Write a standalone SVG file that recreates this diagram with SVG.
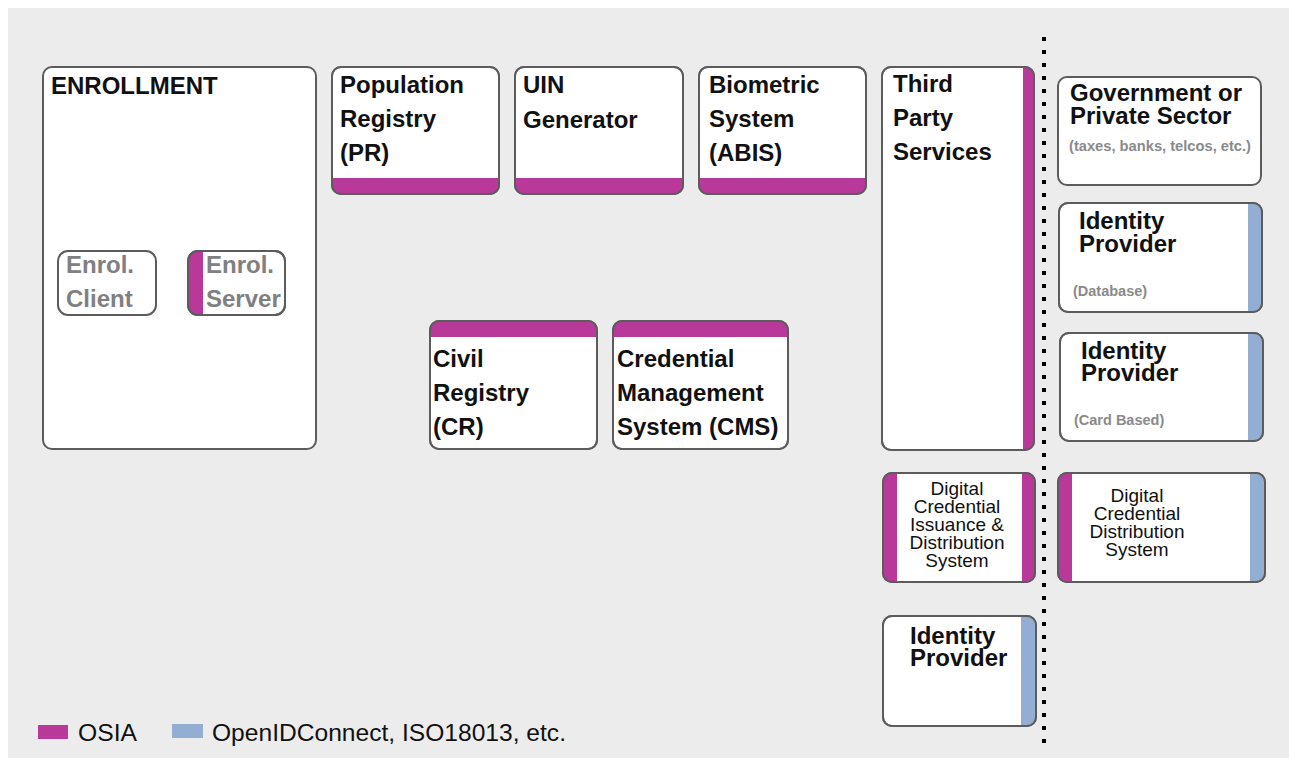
<svg xmlns="http://www.w3.org/2000/svg" width="1289" height="758" viewBox="0 0 1289 758">
<style>
.box{fill:#fff;stroke:#5c5c5c;stroke-width:2}
.frame{fill:none;stroke:#5c5c5c;stroke-width:2}
.osia{fill:#b9399b}
.oidc{fill:#93aed3}
.t{font-family:"Liberation Sans",Arial,sans-serif;font-weight:bold;font-size:24px;fill:#111}
.g{font-family:"Liberation Sans",Arial,sans-serif;font-weight:bold;font-size:24px;fill:#808080}
.s{font-family:"Liberation Sans",Arial,sans-serif;font-weight:bold;font-size:14.5px;fill:#8a8a8a}
.r{font-family:"Liberation Sans",Arial,sans-serif;font-size:19px;fill:#111;text-anchor:middle}
.l{font-family:"Liberation Sans",Arial,sans-serif;font-size:23.5px;fill:#111}
</style>
<rect x="8" y="8" width="1281" height="750" fill="#ececec"/>

<g id="divider">
<line x1="1044" y1="37" x2="1044" y2="752" stroke="#000" stroke-width="4" stroke-dasharray="4 9"/>
</g>

<g id="connectors"></g>

<g id="enrollment">
<rect class="box" x="43" y="67" width="273" height="382" rx="9"/>
<text class="t" x="51" y="94">ENROLLMENT</text>
</g>

<g id="enrol-client">
<rect class="box" x="58" y="251" width="98" height="64" rx="10" stroke="#666"/>
<text class="g" x="66" y="273">Enrol.</text>
<text class="g" x="66" y="307">Client</text>
</g>

<g id="enrol-server">
<rect class="box" x="188" y="251" width="97" height="64" rx="10"/>
<path class="osia" d="M203,251 H198 A10 10 0 0 0 188,261 V305 A10 10 0 0 0 198,315 H203 Z"/>
<rect class="frame" x="188" y="251" width="97" height="64" rx="10"/>
<text class="g" x="206" y="273">Enrol.</text>
<text class="g" x="206" y="307">Server</text>
</g>

<g id="population-registry">
<rect class="box" x="332" y="67" width="167" height="127" rx="9"/>
<path class="osia" d="M332,178 H499 V185 A9 9 0 0 1 490,194 H341 A9 9 0 0 1 332,185 Z"/>
<rect class="frame" x="332" y="67" width="167" height="127" rx="9"/>
<text class="t" x="340" y="93">Population</text>
<text class="t" x="340" y="127">Registry</text>
<text class="t" x="340" y="161">(PR)</text>
</g>

<g id="uin-generator">
<rect class="box" x="515" y="67" width="168" height="127" rx="9"/>
<path class="osia" d="M515,178 H683 V185 A9 9 0 0 1 674,194 H524 A9 9 0 0 1 515,185 Z"/>
<rect class="frame" x="515" y="67" width="168" height="127" rx="9"/>
<text class="t" x="523" y="93">UIN</text>
<text class="t" x="523" y="128">Generator</text>
</g>

<g id="biometric-system">
<rect class="box" x="699" y="67" width="167" height="127" rx="9"/>
<path class="osia" d="M699,178 H866 V185 A9 9 0 0 1 857,194 H708 A9 9 0 0 1 699,185 Z"/>
<rect class="frame" x="699" y="67" width="167" height="127" rx="9"/>
<text class="t" x="709" y="93">Biometric</text>
<text class="t" x="709" y="127">System</text>
<text class="t" x="709" y="161">(ABIS)</text>
</g>

<g id="civil-registry">
<rect class="box" x="430" y="321" width="167" height="128" rx="9"/>
<path class="osia" d="M430,337 V330 A9 9 0 0 1 439,321 H588 A9 9 0 0 1 597,330 V337 Z"/>
<rect class="frame" x="430" y="321" width="167" height="128" rx="9"/>
<text class="t" x="433" y="367">Civil</text>
<text class="t" x="433" y="401">Registry</text>
<text class="t" x="433" y="435">(CR)</text>
</g>

<g id="credential-management">
<rect class="box" x="613" y="321" width="175" height="128" rx="9"/>
<path class="osia" d="M613,337 V330 A9 9 0 0 1 622,321 H779 A9 9 0 0 1 788,330 V337 Z"/>
<rect class="frame" x="613" y="321" width="175" height="128" rx="9"/>
<text class="t" x="617" y="367">Credential</text>
<text class="t" x="617" y="401">Management</text>
<text class="t" x="617" y="435">System (CMS)</text>
</g>

<g id="third-party-services">
<rect class="box" x="882" y="67" width="152" height="383" rx="9"/>
<path class="osia" d="M1023,67 H1025 A9 9 0 0 1 1034,76 V441 A9 9 0 0 1 1025,450 H1023 Z"/>
<rect class="frame" x="882" y="67" width="152" height="383" rx="9"/>
<text class="t" x="893" y="92">Third</text>
<text class="t" x="893" y="126">Party</text>
<text class="t" x="893" y="160">Services</text>
</g>

<g id="digital-credential-issuance">
<rect class="box" x="883" y="473" width="152" height="109" rx="9"/>
<path class="osia" d="M897,473 H892 A9 9 0 0 0 883,482 V573 A9 9 0 0 0 892,582 H897 Z"/>
<path class="osia" d="M1022,473 H1026 A9 9 0 0 1 1035,482 V573 A9 9 0 0 1 1026,582 H1022 Z"/>
<rect class="frame" x="883" y="473" width="152" height="109" rx="9"/>
<text class="r" x="957" y="495">Digital</text>
<text class="r" x="957" y="513">Credential</text>
<text class="r" x="957" y="531">Issuance &amp;</text>
<text class="r" x="957" y="549">Distribution</text>
<text class="r" x="957" y="567">System</text>
</g>

<g id="identity-provider">
<rect class="box" x="883" y="616" width="153" height="110" rx="9"/>
<path class="oidc" d="M1021,616 H1027 A9 9 0 0 1 1036,625 V717 A9 9 0 0 1 1027,726 H1021 Z"/>
<rect class="frame" x="883" y="616" width="153" height="110" rx="9"/>
<text class="t" x="910" y="644">Identity</text>
<text class="t" x="910" y="666">Provider</text>
</g>

<g id="government-private-sector">
<rect class="box" x="1058" y="77" width="203" height="108" rx="9"/>
<text class="t" x="1070" y="101">Government or</text>
<text class="t" x="1070" y="124">Private Sector</text>
<text class="s" x="1069" y="151" textLength="182" lengthAdjust="spacingAndGlyphs">(taxes, banks, telcos, etc.)</text>
</g>

<g id="identity-provider-database">
<rect class="box" x="1059" y="203" width="203" height="109" rx="9"/>
<path class="oidc" d="M1248,203 H1253 A9 9 0 0 1 1262,212 V303 A9 9 0 0 1 1253,312 H1248 Z"/>
<rect class="frame" x="1059" y="203" width="203" height="109" rx="9"/>
<text class="t" x="1079" y="229">Identity</text>
<text class="t" x="1079" y="252">Provider</text>
<text class="s" x="1073" y="296">(Database)</text>
</g>

<g id="identity-provider-card">
<rect class="box" x="1060" y="333" width="203" height="108" rx="9"/>
<path class="oidc" d="M1248,333 H1254 A9 9 0 0 1 1263,342 V432 A9 9 0 0 1 1254,441 H1248 Z"/>
<rect class="frame" x="1060" y="333" width="203" height="108" rx="9"/>
<text class="t" x="1081" y="359">Identity</text>
<text class="t" x="1081" y="381">Provider</text>
<text class="s" x="1074" y="425">(Card Based)</text>
</g>

<g id="digital-credential-distribution">
<rect class="box" x="1058" y="473" width="207" height="109" rx="9"/>
<path class="osia" d="M1072,473 H1067 A9 9 0 0 0 1058,482 V573 A9 9 0 0 0 1067,582 H1072 Z"/>
<path class="oidc" d="M1250,473 H1256 A9 9 0 0 1 1265,482 V573 A9 9 0 0 1 1256,582 H1250 Z"/>
<rect class="frame" x="1058" y="473" width="207" height="109" rx="9"/>
<text class="r" x="1137" y="502">Digital</text>
<text class="r" x="1137" y="520">Credential</text>
<text class="r" x="1137" y="538">Distribution</text>
<text class="r" x="1137" y="556">System</text>
</g>

<g id="legend">
<rect class="osia" x="38" y="725" width="30" height="14"/>
<text class="l" x="78" y="741" textLength="59" lengthAdjust="spacingAndGlyphs">OSIA</text>
<rect class="oidc" x="172" y="724" width="31" height="14"/>
<text class="l" x="212" y="741" textLength="354" lengthAdjust="spacingAndGlyphs">OpenIDConnect, ISO18013, etc.</text>
</g>
</svg>
